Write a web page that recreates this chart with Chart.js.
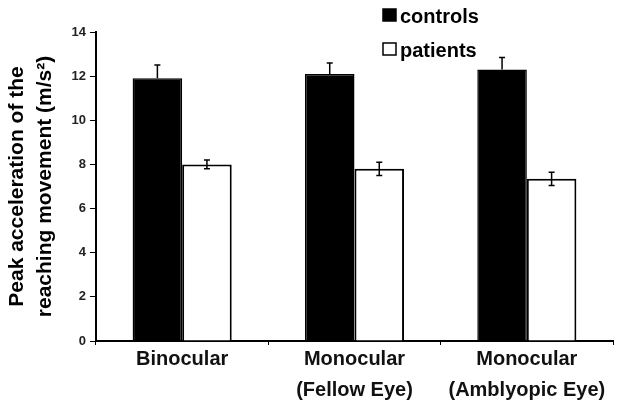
<!DOCTYPE html>
<html>
<head>
<meta charset="utf-8">
<script src="https://cdn.jsdelivr.net/npm/chart.js@4/dist/chart.umd.min.js"></script>
<style>
  html, body { margin: 0; padding: 0; background: #fff; }
  #wrap { width: 632px; height: 407px; position: relative; }
</style>
</head>
<body>
<div id="wrap"><canvas id="chart"></canvas></div>
<script>
// Datos
const categories = [['Binocular'], ['Monocular', '(Fellow Eye)'], ['Monocular', '(Amblyopic Eye)']];
const controls = [11.9, 12.1, 12.3];
const controlsErr = [0.6, 0.5, 0.55];
const patients = [8.0, 7.8, 7.35];
const patientsErr = [0.2, 0.3, 0.3];
const yTicks = [0, 2, 4, 6, 8, 10, 12, 14];

const FONT = 'Liberation Sans, Arial, sans-serif';

// Barras de error (solo parte superior para controles, ambos lados para pacientes)
const errorBars = {
  id: 'errorBars',
  afterDatasetsDraw(chart) {
    const { ctx, scales: { y } } = chart;
    const errs = [controlsErr, patientsErr];
    ctx.save();
    ctx.strokeStyle = '#000';
    ctx.lineWidth = 1.5;
    chart.data.datasets.forEach((ds, di) => {
      chart.getDatasetMeta(di).data.forEach((bar, i) => {
        const v = ds.data[i], e = errs[di][i];
        const top = y.getPixelForValue(v + e);
        const bot = y.getPixelForValue(di === 0 ? v : v - e);
        ctx.beginPath();
        ctx.moveTo(bar.x, top); ctx.lineTo(bar.x, bot);
        ctx.moveTo(bar.x - 3, top); ctx.lineTo(bar.x + 3, top);
        if (di === 1) { ctx.moveTo(bar.x - 3, bot); ctx.lineTo(bar.x + 3, bot); }
        ctx.stroke();
      });
    });
    ctx.restore();
  }
};

// Leyenda vertical en la esquina superior
const boxLegend = {
  id: 'boxLegend',
  afterDraw(chart) {
    const { ctx } = chart;
    ctx.save();
    ctx.font = 'bold 20px ' + FONT;
    ctx.textBaseline = 'middle';
    chart.data.datasets.forEach((ds, i) => {
      const yy = 15 + i * 34;
      ctx.fillStyle = ds.backgroundColor;
      ctx.fillRect(383, yy - 6, 13, 12);
      ctx.strokeStyle = '#000';
      ctx.lineWidth = 1.5;
      ctx.strokeRect(383, yy - 6, 13, 12);
      ctx.fillStyle = '#000';
      ctx.fillText(ds.label, 400, yy + 2);
    });
    ctx.restore();
  }
};

new Chart(document.getElementById('chart'), {
  type: 'bar',
  data: {
    labels: categories,
    datasets: [
      { label: 'controls', data: controls, backgroundColor: '#000', borderColor: '#000', borderWidth: 1.5 },
      { label: 'patients', data: patients, backgroundColor: '#fff', borderColor: '#000', borderWidth: 2 }
    ]
  },
  options: {
    responsive: true,
    maintainAspectRatio: false,
    animation: false,
    categoryPercentage: 0.575,
    barPercentage: 1.0,
    layout: { padding: { top: 32, right: 19, left: 0, bottom: 0 } },
    scales: {
      x: {
        afterFit: (axis) => { axis.height = 66; },
        grid: { offset: true, drawOnChartArea: false, tickLength: 4, color: '#000', lineWidth: 1 },
        border: { color: '#000', width: 2 },
        ticks: { color: '#111', font: { family: FONT, size: 20, weight: 'bold', lineHeight: 1.55 }, padding: -1, maxRotation: 0 }
      },
      y: {
        min: 0, max: 14,
        afterBuildTicks: (axis) => { axis.ticks = yTicks.map(v => ({ value: v })); },
        afterFit: (axis) => { axis.width = 96; },
        grid: { drawOnChartArea: false, tickLength: 6, color: '#000', lineWidth: 1 },
        border: { color: '#000', width: 2 },
        ticks: { color: '#222', font: { family: FONT, size: 13, weight: 'bold' }, padding: 4 },
        title: {
          display: true,
          text: ['Peak acceleration of the', 'reaching movement (m/s\u00B2)'],
          color: '#000',
          font: { family: FONT, size: 21, weight: 'bold', lineHeight: 1.3 },
          padding: { top: 4, bottom: 0 }
        }
      }
    },
    plugins: { legend: { display: false }, tooltip: { enabled: false } }
  },
  plugins: [errorBars, boxLegend]
});
</script>
</body>
</html>
